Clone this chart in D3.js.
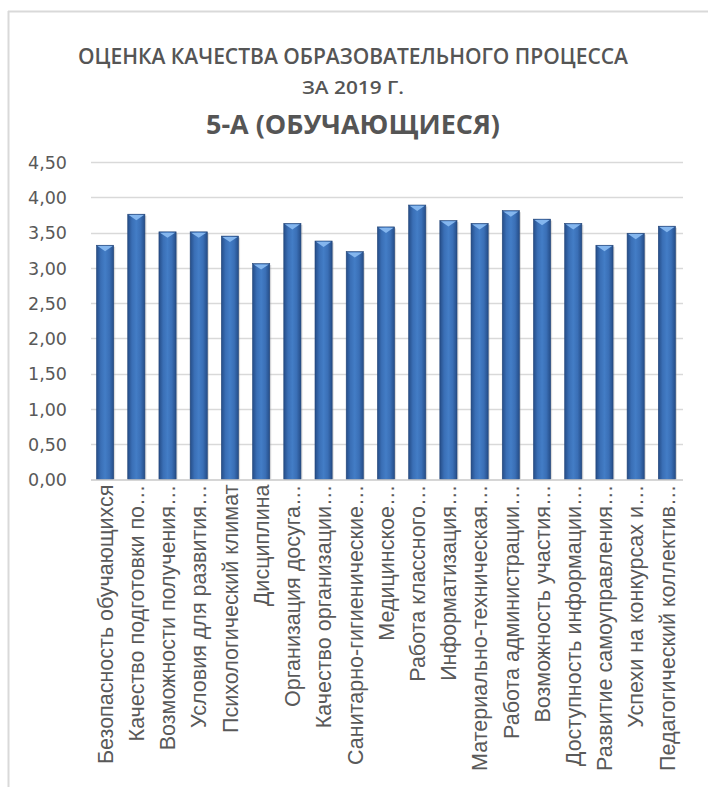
<!DOCTYPE html>
<html>
<head>
<meta charset="utf-8">
<script src="https://cdn.jsdelivr.net/npm/d3@7"></script>
<style>
  body { margin: 0; background: #fff; }
</style>
</head>
<body>
<div id="chart"></div>
<script>
// Оценка качества образовательного процесса, 5-А, bar chart with Excel-like bevelled bars

var categories = [
  'Безопасность обучающихся',
  'Качество подготовки по…',
  'Возможности получения…',
  'Условия для развития…',
  'Психологический климат',
  'Дисциплина',
  'Организация досуга…',
  'Качество организации…',
  'Санитарно-гигиенические…',
  'Медицинское…',
  'Работа классного…',
  'Информатизация…',
  'Материально-техническая…',
  'Работа администрации…',
  'Возможность участия…',
  'Доступность информации…',
  'Развитие самоуправления…',
  'Успехи на конкурсах и…',
  'Педагогический коллектив…'
];
var values = [3.32, 3.76, 3.51, 3.51, 3.45, 3.06, 3.63, 3.38, 3.23, 3.58,
              3.89, 3.67, 3.63, 3.81, 3.69, 3.63, 3.32, 3.49, 3.59];
var yTicks = [0, 0.5, 1, 1.5, 2, 2.5, 3, 3.5, 4, 4.5];
var titleLines = ['ОЦЕНКА КАЧЕСТВА ОБРАЗОВАТЕЛЬНОГО ПРОЦЕССА', 'ЗА 2019 Г.', '5-А (ОБУЧАЮЩИЕСЯ)'];

var width = 708;
var height = 787;
var plotLeft = 89.5, plotRight = 682.5;
var plotTop = 162, plotBottom = 479.5;
var textColor = '#595959';

var data = categories.map((c, i) => ({ name: c, value: values[i] }));

var svg = d3.select('#chart').append('svg')
      .attr('width', width)
      .attr('height', height)

// gradient for the bars: dark edges, lighter middle
var defs = svg.append('defs')
var grad = defs.append('linearGradient')
      .attr('id', 'barGrad')
      .attr('x1', '0%').attr('x2', '100%')
      .attr('y1', '0%').attr('y2', '0%')
grad.append('stop').attr('offset', '0%').attr('stop-color', '#254d88')
grad.append('stop').attr('offset', '25%').attr('stop-color', '#3a6fb6')
grad.append('stop').attr('offset', '50%').attr('stop-color', '#437dc6')
grad.append('stop').attr('offset', '75%').attr('stop-color', '#3a6fb6')
grad.append('stop').attr('offset', '100%').attr('stop-color', '#254d88')

// chart frame (only left and top edges are visible in the picture)
svg.append('line')
      .attr('x1', 8.5).attr('x2', 8.5)
      .attr('y1', 11).attr('y2', height)
      .style('stroke', '#d9d9d9').style('stroke-width', 2)
svg.append('line')
      .attr('x1', 8).attr('x2', width)
      .attr('y1', 11.5).attr('y2', 11.5)
      .style('stroke', '#d9d9d9').style('stroke-width', 2)

// scales
var xScale = d3.scaleBand()
      .domain(categories)
      .range([plotLeft, plotRight])
      .paddingInner(0.45)
      .paddingOuter(0.225)

var yScale = d3.scaleLinear()
      .domain([0, 4.5])
      .range([plotBottom, plotTop])

// gridlines
svg.append('g')
      .selectAll('line')
      .data(yTicks.filter(d => d > 0))
      .enter()
      .append('line')
      .attr('x1', plotLeft + 1.5)
      .attr('x2', plotRight + 0.5)
      .attr('y1', d => Math.round(yScale(d)) + 0.5)
      .attr('y2', d => Math.round(yScale(d)) + 0.5)
      .style('stroke', '#d9d9d9')
      .style('stroke-width', 1.5)

// y axis labels
var fmt = d => d3.format('.2f')(d).replace('.', ',');
var yAxis = d3.axisLeft(yScale)
      .tickValues(yTicks)
      .tickSize(0)
      .tickPadding(0)
      .tickFormat(fmt)

var drawYAxis = svg.append('g')
      .attr('transform', 'translate(67, 0)')
      .call(yAxis)
drawYAxis.select('.domain').remove()
drawYAxis.selectAll('text')
      .style('font-family', 'DejaVu Sans')
      .style('font-size', '17.5px')
      .style('fill', textColor)
      .attr('dy', '0.36em')

// bars: shadow, body, bevel on top
var bars = svg.append('g')
      .selectAll('g')
      .data(data)
      .enter()
      .append('g')

bars.append('rect')
      .attr('x', d => xScale(d.name) + 1.5)
      .attr('y', d => yScale(d.value) + 1.5)
      .attr('width', xScale.bandwidth())
      .attr('height', d => plotBottom - yScale(d.value) - 1.5)
      .style('fill', '#9a9a9a')
      .style('opacity', 0.35)

bars.append('rect')
      .attr('x', d => xScale(d.name))
      .attr('y', d => yScale(d.value))
      .attr('width', xScale.bandwidth())
      .attr('height', d => plotBottom - yScale(d.value))
      .style('fill', 'url(#barGrad)')
      .style('stroke', '#224477')
      .style('stroke-width', 0.6)

bars.append('path')
      .attr('d', d => {
        var x0 = xScale(d.name), w = xScale.bandwidth(), t = yScale(d.value);
        return 'M' + (x0 + 1) + ',' + (t + 0.8) + 'L' + (x0 + w - 1) + ',' + (t + 0.8) +
               'L' + (x0 + w / 2) + ',' + (t + 6) + 'Z';
      })
      .style('fill', '#84b6ee')

// x axis line
svg.append('line')
      .attr('x1', plotLeft + 1.5)
      .attr('x2', plotRight + 0.5)
      .attr('y1', plotBottom + 0.5)
      .attr('y2', plotBottom + 0.5)
      .style('stroke', '#c8c8c8')
      .style('stroke-width', 1.5)

// category labels, rotated
var xAxis = d3.axisBottom(xScale)
      .tickSize(0)
      .tickPadding(0)

var drawXAxis = svg.append('g')
      .attr('transform', 'translate(0, ' + plotBottom + ')')
      .call(xAxis)
drawXAxis.select('.domain').remove()
drawXAxis.selectAll('text')
      .attr('transform', 'rotate(-90)')
      .attr('x', -5)
      .attr('y', 0)
      .attr('dy', '0.36em')
      .style('text-anchor', 'end')
      .style('font-family', 'Liberation Sans')
      .style('font-size', '21.5px')
      .style('fill', textColor)

// title
var titleX = 353;
svg.append('text')
      .attr('x', titleX)
      .attr('y', 64)
      .attr('textLength', 550)
      .attr('lengthAdjust', 'spacingAndGlyphs')
      .style('text-anchor', 'middle')
      .style('font-family', 'Open Sans')
      .style('font-weight', 600)
      .style('font-size', '21px')
      .style('fill', '#555555')
      .text(titleLines[0])

svg.append('text')
      .attr('x', titleX)
      .attr('y', 94)
      .attr('textLength', 102)
      .attr('lengthAdjust', 'spacingAndGlyphs')
      .style('text-anchor', 'middle')
      .style('font-family', 'Open Sans')
      .style('font-weight', 600)
      .style('font-size', '18px')
      .style('fill', '#555555')
      .text(titleLines[1])

svg.append('text')
      .attr('x', titleX)
      .attr('y', 134)
      .attr('textLength', 294)
      .attr('lengthAdjust', 'spacingAndGlyphs')
      .style('text-anchor', 'middle')
      .style('font-family', 'Open Sans')
      .style('font-weight', 700)
      .style('font-size', '27px')
      .style('fill', '#555555')
      .text(titleLines[2])
</script>
</body>
</html>
